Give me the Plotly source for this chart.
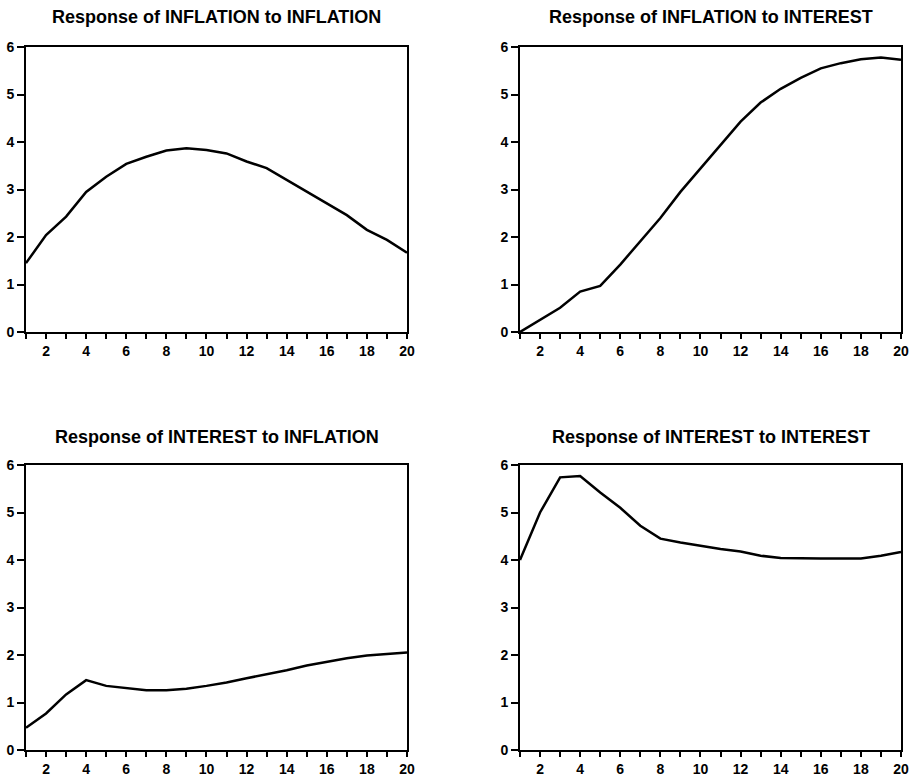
import plotly.graph_objects as go

periods = list(range(1, 21))

inflation_to_inflation = [1.45, 2.04, 2.43, 2.95, 3.27, 3.54, 3.69, 3.82, 3.87, 3.83,
                          3.76, 3.59, 3.45, 3.20, 2.95, 2.71, 2.46, 2.15, 1.94, 1.67]
inflation_to_interest = [0.00, 0.25, 0.51, 0.85, 0.97, 1.42, 1.90, 2.40, 2.95, 3.45,
                         3.95, 4.43, 4.83, 5.12, 5.35, 5.55, 5.66, 5.74, 5.78, 5.73]
interest_to_inflation = [0.47, 0.77, 1.17, 1.47, 1.35, 1.30, 1.26, 1.26, 1.29, 1.35,
                         1.42, 1.51, 1.59, 1.68, 1.78, 1.86, 1.93, 1.99, 2.02, 2.05]
interest_to_interest = [4.00, 5.00, 5.74, 5.77, 5.42, 5.10, 4.72, 4.45, 4.37, 4.30,
                        4.23, 4.18, 4.09, 4.04, 4.03, 4.03, 4.03, 4.03, 4.09, 4.17]

titles = ["Response of INFLATION to INFLATION",
          "Response of INFLATION to INTEREST",
          "Response of INTEREST to INFLATION",
          "Response of INTEREST to INTEREST"]
series = [inflation_to_inflation, inflation_to_interest,
          interest_to_inflation, interest_to_interest]

W, H = 917, 777
# panel boxes in pixels: (left, right, top, bottom)
boxes = [(26, 407, 47, 332), (520, 901, 47, 332),
         (26, 407, 465, 750), (520, 901, 465, 750)]
title_y = [17, 17, 437, 437]

FONT = "Liberation Sans, Arial, sans-serif"

fig = go.Figure()
layout = dict(width=W, height=H, margin=dict(l=0, r=0, t=0, b=0),
              paper_bgcolor="white", plot_bgcolor="white", showlegend=False)
annotations = []
for i, (vals, (l, r, t, b)) in enumerate(zip(series, boxes)):
    n = i + 1
    xa = "x" if n == 1 else f"x{n}"
    ya = "y" if n == 1 else f"y{n}"
    fig.add_trace(go.Scatter(x=periods, y=vals, mode="lines",
                             line=dict(color="black", width=2.5),
                             xaxis=xa, yaxis=ya, hoverinfo="skip"))
    xkey = "xaxis" if n == 1 else f"xaxis{n}"
    ykey = "yaxis" if n == 1 else f"yaxis{n}"
    layout[xkey] = dict(domain=[l / W, r / W], range=[1, 20], anchor=ya,
                        tick0=2, dtick=2, ticks="outside", ticklen=5, tickwidth=1.5,
                        tickcolor="black", showline=True, linecolor="black",
                        linewidth=2, mirror=True, showgrid=False, zeroline=False,
                        tickfont=dict(family=FONT, size=14, color="black", weight="bold"),
                        minor=dict(dtick=1, tick0=1, ticks="outside", ticklen=5,
                                   tickwidth=1.5, tickcolor="black", showgrid=False),
                        automargin=False, fixedrange=True)
    layout[ykey] = dict(domain=[1 - b / H, 1 - t / H], range=[0, 6], anchor=xa,
                        dtick=1, tick0=0, ticks="outside", ticklen=7, tickwidth=1.5,
                        tickcolor="black", showline=True, linecolor="black",
                        linewidth=2, mirror=True, showgrid=False, zeroline=False,
                        ticklabelstandoff=0,
                        tickfont=dict(family=FONT, size=14, color="black", weight="bold"),
                        automargin=False, fixedrange=True)
    annotations.append(dict(text=titles[i], x=(l + r) / 2 / W, y=1 - title_y[i] / H,
                            xref="paper", yref="paper", showarrow=False,
                            xanchor="center", yanchor="middle",
                            font=dict(family=FONT, size=18, color="black", weight="bold")))
layout["annotations"] = annotations
fig.update_layout(**layout)
fig.write_html("out.html", config={"displayModeBar": False},
               post_script="document.body.style.margin='0';document.body.style.overflow='hidden';")
